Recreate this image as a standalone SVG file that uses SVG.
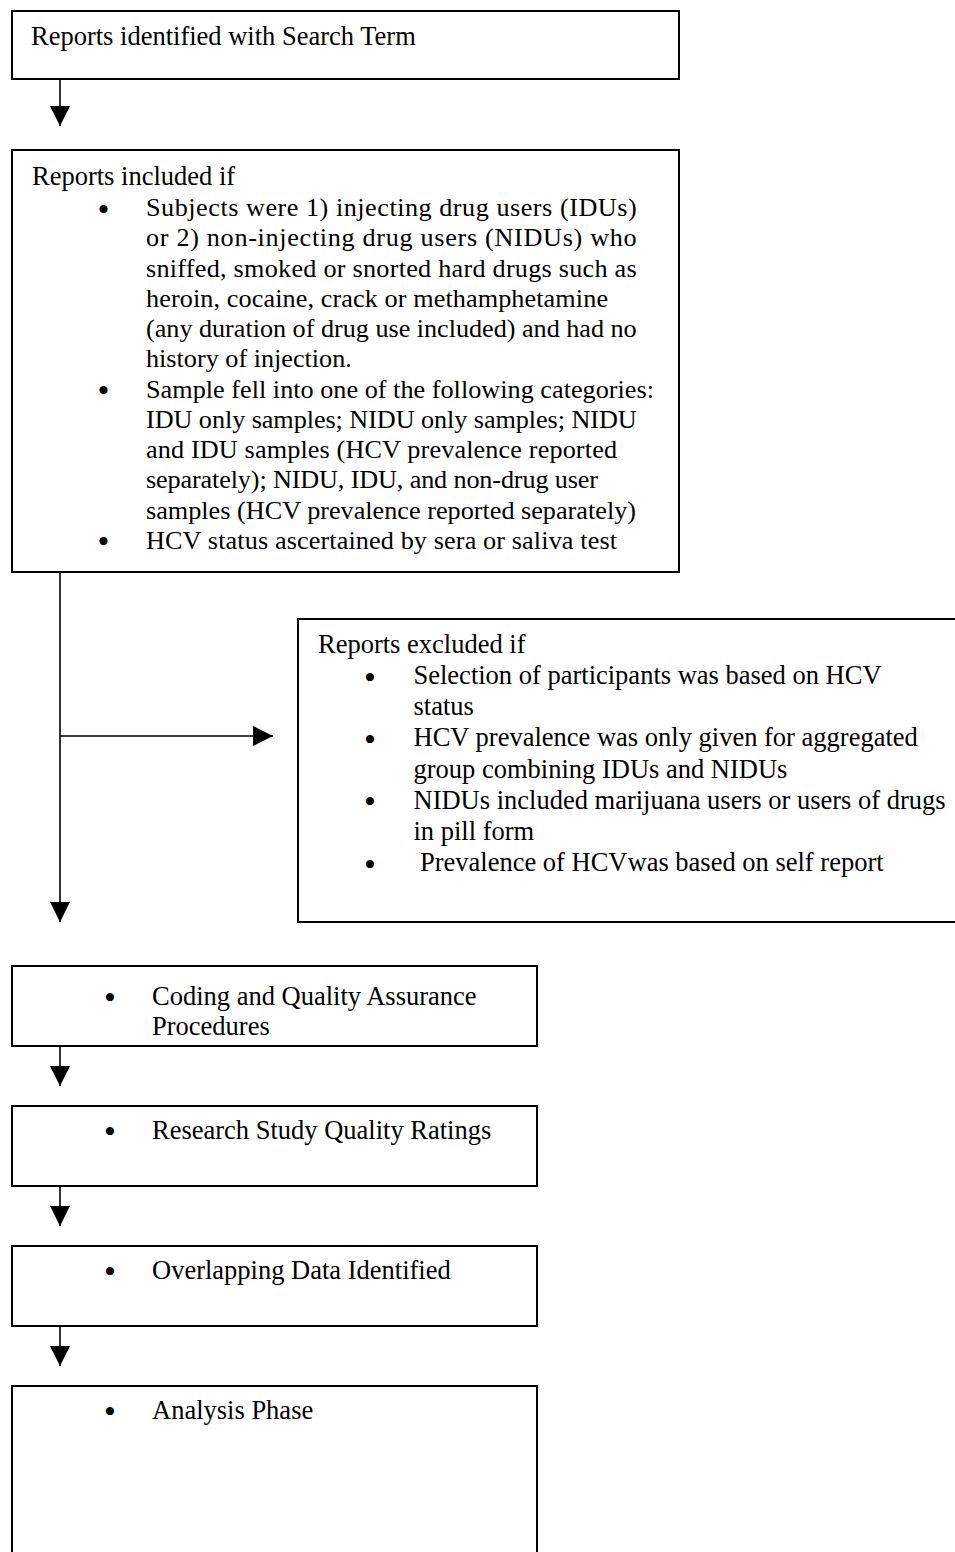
<svg xmlns="http://www.w3.org/2000/svg" width="955" height="1552" viewBox="0 0 955 1552">
  <style>
    .box { fill: #ffffff; stroke: #000000; stroke-width: 2; }
    .t { font-family: "Liberation Serif", "Times New Roman", serif; font-size: 26.5px; fill: #000000; }
    .ti { font-family: "Liberation Serif", "Times New Roman", serif; font-size: 26.2px; fill: #000000; }
    .b { font-family: "Liberation Serif", "Times New Roman", serif; font-size: 34px; fill: #000000; text-anchor: middle; }
    .conn { fill: none; stroke: #000000; stroke-width: 1.6; }
  </style>
  <defs>
    <marker id="arrow" viewBox="0 0 20 20" refX="20" refY="10" markerWidth="20" markerHeight="20" markerUnits="userSpaceOnUse" orient="auto">
      <path d="M0,0 L20,10 L0,20 Z" fill="#000000"/>
    </marker>
  </defs>
  <rect width="955" height="1552" fill="#ffffff"/>

  <g id="connectors">
    <line class="conn" x1="60" y1="79" x2="60" y2="126" marker-end="url(#arrow)"/>
    <line class="conn" x1="60" y1="572" x2="60" y2="922" marker-end="url(#arrow)"/>
    <line class="conn" x1="60" y1="736" x2="273" y2="736" marker-end="url(#arrow)"/>
    <line class="conn" x1="60" y1="1046" x2="60" y2="1086" marker-end="url(#arrow)"/>
    <line class="conn" x1="60" y1="1186" x2="60" y2="1226" marker-end="url(#arrow)"/>
    <line class="conn" x1="60" y1="1326" x2="60" y2="1366" marker-end="url(#arrow)"/>
  </g>

  <g id="identified">
    <rect class="box" x="12" y="11" width="667" height="68"/>
    <text class="t" x="31" y="45">Reports identified with Search Term</text>
  </g>

  <g id="included">
    <rect class="box" x="12" y="150" width="667" height="422"/>
    <text class="t" x="32" y="185">Reports included if</text>
    <text class="b" x="103.5" y="220.5">•</text>
    <text class="ti" x="146" y="216" textLength="490.7" lengthAdjust="spacing">Subjects were 1) injecting drug users (IDUs)</text>
    <text class="ti" x="146" y="246.25" textLength="490.7" lengthAdjust="spacing">or 2) non-injecting drug users (NIDUs)  who</text>
    <text class="ti" x="146" y="276.5" textLength="490.7" lengthAdjust="spacing">sniffed, smoked or snorted hard drugs such as</text>
    <text class="ti" x="146" y="306.75" textLength="462" lengthAdjust="spacing">heroin, cocaine, crack or methamphetamine</text>
    <text class="ti" x="146" y="337" textLength="490.7" lengthAdjust="spacing">(any duration of drug use included) and had no</text>
    <text class="ti" x="146" y="367.25">history of injection.</text>
    <text class="b" x="103.5" y="402">•</text>
    <text class="ti" x="146" y="397.5" textLength="508" lengthAdjust="spacing">Sample fell into one of the following categories:</text>
    <text class="ti" x="146" y="427.75" textLength="490.7" lengthAdjust="spacing">IDU only samples; NIDU only samples; NIDU</text>
    <text class="ti" x="146" y="458" textLength="471" lengthAdjust="spacing">and IDU samples (HCV prevalence reported</text>
    <text class="ti" x="146" y="488.25" textLength="452" lengthAdjust="spacing">separately); NIDU, IDU, and non-drug user</text>
    <text class="ti" x="146" y="518.5" textLength="490" lengthAdjust="spacing">samples (HCV prevalence reported separately)</text>
    <text class="b" x="103.5" y="553.25">•</text>
    <text class="ti" x="146" y="548.75" textLength="471" lengthAdjust="spacing">HCV status ascertained by sera or saliva test</text>
  </g>

  <g id="excluded">
    <rect class="box" x="298" y="619" width="672" height="303"/>
    <text class="t" x="318" y="652.5">Reports excluded if</text>
    <text class="b" x="370" y="688.5">•</text>
    <text class="t" x="413.5" y="684">Selection of participants was based on HCV</text>
    <text class="t" x="413.5" y="715.2">status</text>
    <text class="b" x="370" y="750.9">•</text>
    <text class="t" x="413.5" y="746.4">HCV prevalence was only given for aggregated</text>
    <text class="t" x="413.5" y="777.6">group combining IDUs and NIDUs</text>
    <text class="b" x="370" y="813.3">•</text>
    <text class="t" x="413.5" y="808.8">NIDUs included marijuana users or users of drugs</text>
    <text class="t" x="413.5" y="840">in pill form</text>
    <text class="b" x="370" y="875.7">•</text>
    <text class="t" x="420" y="871.2">Prevalence of HCVwas based on self report</text>
  </g>

  <g id="coding">
    <rect class="box" x="12" y="966" width="525" height="80"/>
    <text class="b" x="110" y="1009">•</text>
    <text class="t" x="152" y="1005"><tspan x="152" y="1005">Coding and Quality Assurance</tspan><tspan x="152" y="1035">Procedures</tspan></text>
  </g>

  <g id="ratings">
    <rect class="box" x="12" y="1106" width="525" height="80"/>
    <text class="b" x="110" y="1143">•</text>
    <text class="t" x="152" y="1139">Research Study Quality Ratings</text>
  </g>

  <g id="overlapping">
    <rect class="box" x="12" y="1246" width="525" height="80"/>
    <text class="b" x="110" y="1283">•</text>
    <text class="t" x="152" y="1279">Overlapping Data Identified</text>
  </g>

  <g id="analysis">
    <rect class="box" x="12" y="1386" width="525" height="200"/>
    <text class="b" x="110" y="1423">•</text>
    <text class="t" x="152" y="1419">Analysis Phase</text>
  </g>
</svg>
